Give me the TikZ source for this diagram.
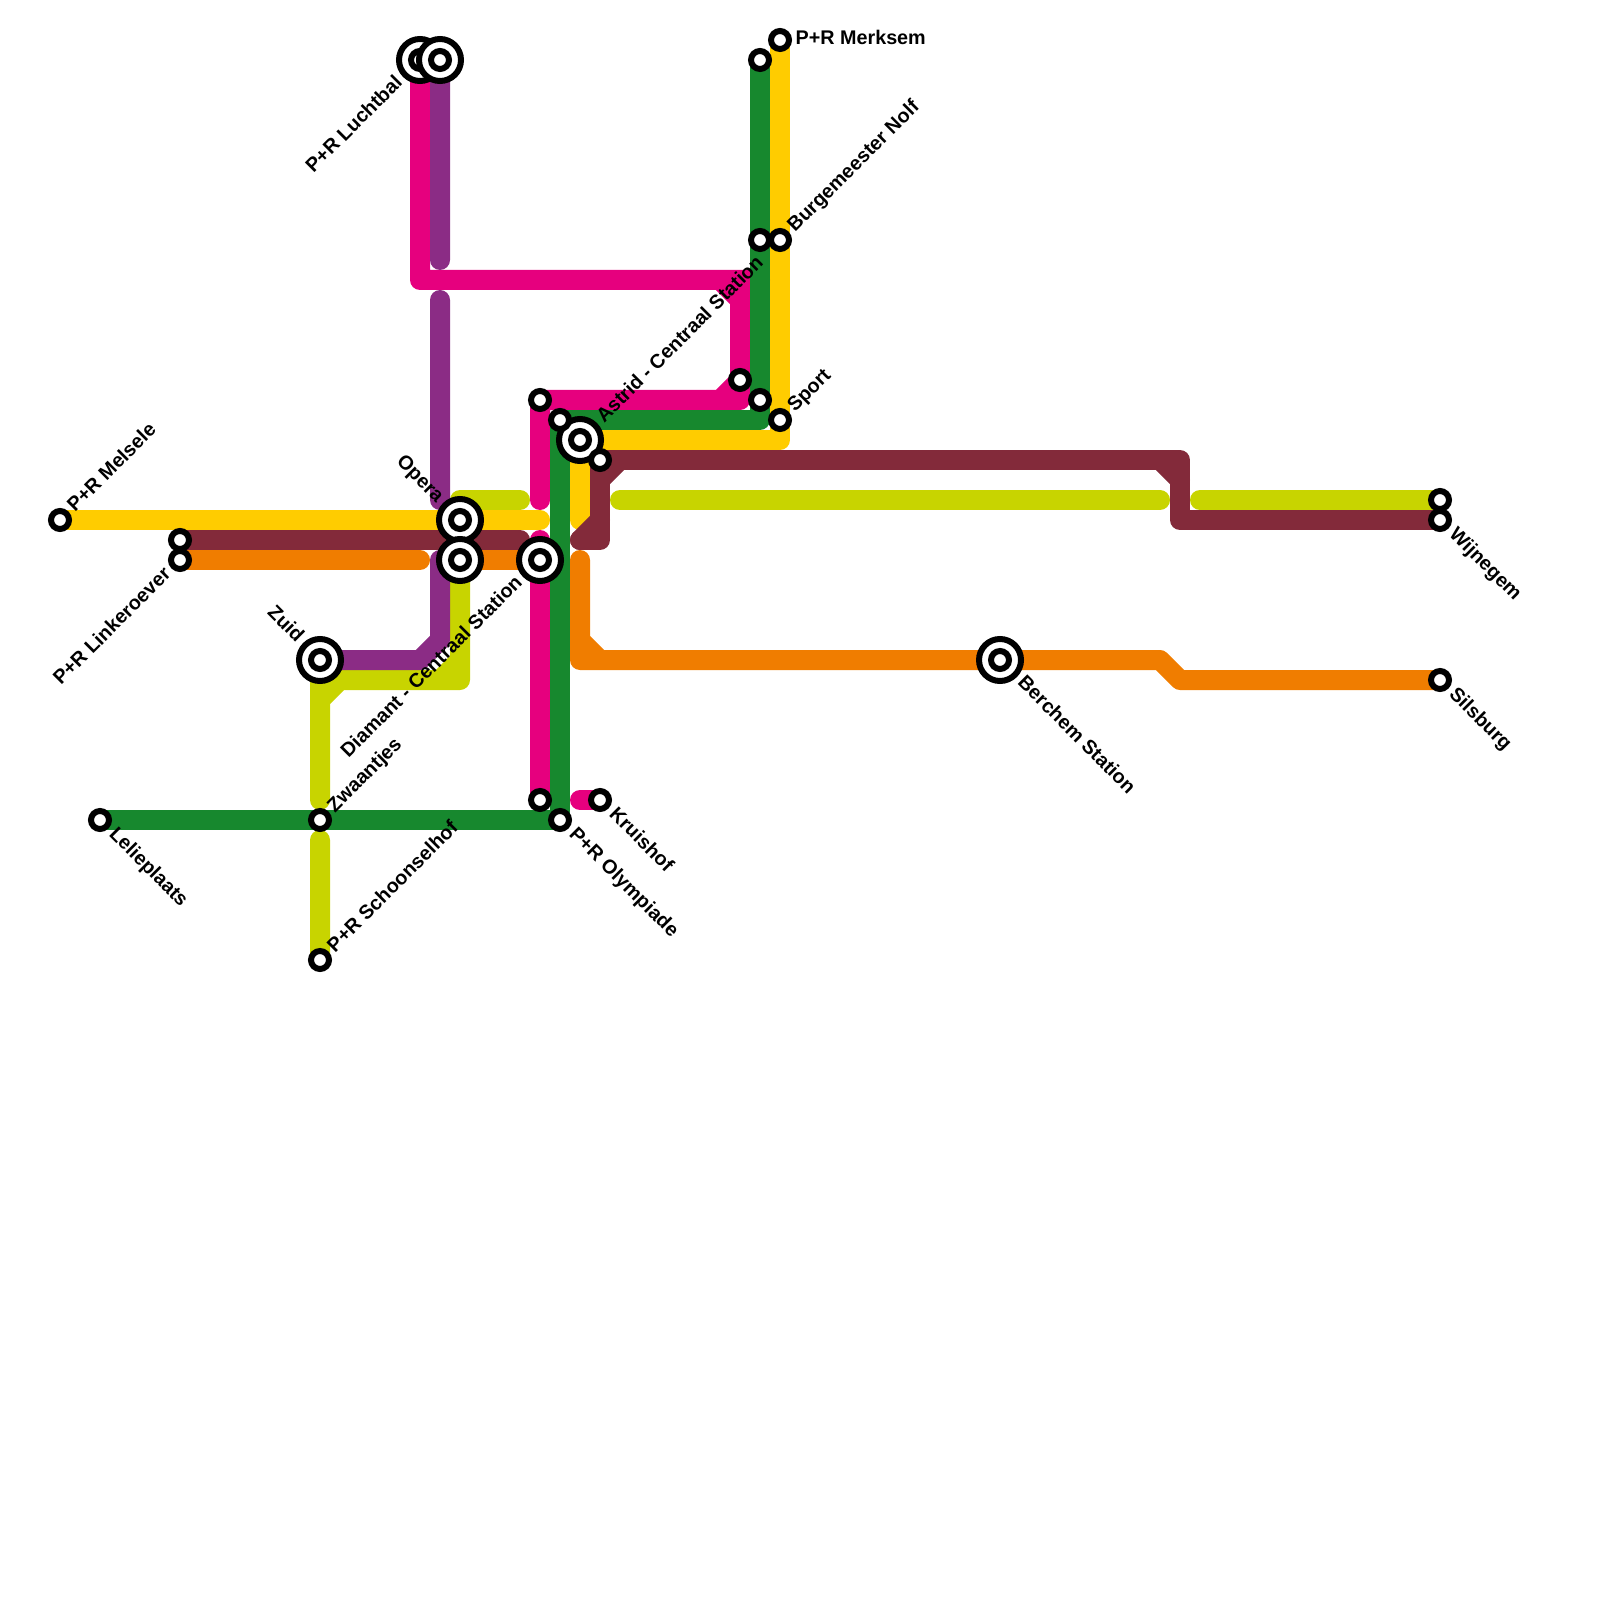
\documentclass[tikz,border=0pt]{standalone}
\usepackage{fontspec}
\setmainfont{Liberation Sans}
\definecolor{lnyellow}{HTML}{FFCC00}
\definecolor{lngreen}{HTML}{17882E}
\definecolor{lnmagenta}{HTML}{E6007E}
\definecolor{lnpurple}{HTML}{8B2C85}
\definecolor{lnolive}{HTML}{C8D400}
\definecolor{lnorange}{HTML}{F07D00}
\definecolor{lnmaroon}{HTML}{832A3A}
\tikzset{
 metro/.style={line width=2mm,line cap=round,line join=round},
 stn/.style={circle,draw=black,fill=white,line width=0.6mm,minimum size=1.8mm,inner sep=0pt},
 bigstn/.style={circle,draw=black,fill=white,line width=0.6mm,minimum size=4.2mm,inner sep=0pt},
 lbl/.style={inner sep=0pt,font=\fontsize{5.62}{7}\selectfont\bfseries},
 lblne/.style={lbl,anchor=base west,rotate=45,xshift=#1,yshift=-0.58mm},
 lblse/.style={lbl,anchor=base west,rotate=-45,xshift=#1,yshift=-0.5mm},
 lblsw/.style={lbl,anchor=base east,rotate=45,xshift=-#1,yshift=-0.5mm},
 lblnw/.style={lbl,anchor=base east,rotate=-45,xshift=-#1,yshift=-0.5mm}
}
\begin{document}
\begin{tikzpicture}[x=2mm,y=-2mm]
\useasboundingbox (0,0) rectangle (80,80);
\foreach \n/\x/\y in {melsele/3/26,yend/27/26,merksem/39/2,sport/39/21,ybend/39/22,astrid/29/22,ystub/29/26,
 gtop/38/3,burgw/38/12,burge/39/12,gmid/38/20,gbend/38/21,gcorner/28/21,olympiade/28/41,lelieplaats/5/41,zwaantjes/16/41,
 luchtbal/21/3,mbend/21/14,mhor/36/14,mcorner/37/14,mgreen/38/14,mver/37/15,mstop/37/19,mlow/37/20,mdiag/36/20,mnorth/27/20,mend/27/25,
 mstart/27/27,centraal/27/28,msouth/27/40,kstart/29/40,kruishof/30/40,
 ptop/22/3,pend/22/13,pstart/22/15,opurple/22/25,dpurple/22/28,pbend/22/32,pdiag/21/33,zuid/16/33,
 ostart/23/25,oend/26/25,omid/31/25,omidend/58/25,oright/60/25,wijnolive/72/25,diamant/23/28,odiaga/23/33,odiagb/22/34,ocorner/23/34,
 ohor/17/34,ojoin/16/34,over/16/35,oend2/16/40,ostart2/16/42,schoonselhof/16/48,
 linkeroever/9/28,rend/21/28,rtop/29/28,rver/29/32,rcorner/29/33,rhor/30/33,berchem/50/33,rbenda/58/33,rbendb/59/34,silsburg/72/34,
 linkmaroon/9/27,qend/26/27,qstub/29/27,qcorner/30/27,qdiag/30/26,qver/30/24,qhor/31/23,qstop/30/23,qbend/59/23,qbenda/58/23,qbendb/59/24,qlow/59/26,wijnegem/72/26,
 opera/23/26}
 \coordinate (\n) at (\x,\y);
\draw[metro,lnyellow] (melsele)--(yend) (merksem)--(ybend)--(astrid)--(ystub);
\draw[metro,lnmagenta] (luchtbal)--(mbend)--(mgreen) (mcorner)--(mlow)--(mnorth)--(mend) (mhor)--(mver) (mstop)--(mdiag);
\draw[metro,lnmagenta] (mstart)--(msouth) (kstart)--(kruishof);
\draw[metro,lngreen] (gtop)--(gbend)--(gcorner)--(olympiade)--(lelieplaats);
\draw[metro,lnolive] (ostart)--(oend) (omid)--(omidend) (oright)--(wijnolive);
\draw[metro,lnolive] (diamant)--(ocorner)--(ojoin)--(oend2) (odiaga)--(odiagb) (ohor)--(over) (ostart2)--(schoonselhof);
\draw[metro,lnpurple] (ptop)--(pend) (pstart)--(opurple) (dpurple)--(pbend)--(pdiag)--(zuid);
\draw[metro,lnorange] (linkeroever)--(rend) (diamant)--(centraal);
\draw[metro,lnorange] (rtop)--(rcorner)--(rbenda)--(rbendb)--(silsburg) (rver)--(rhor);
\draw[metro,lnmaroon] (linkmaroon)--(qend) (qstub)--(qcorner)--(qstop)--(qbend)--(qlow)--(wijnegem);
\draw[metro,lnmaroon] (qstub)--(qdiag) (qver)--(qhor) (qbenda)--(qbendb);
\foreach \s in {luchtbal,ptop,opera,diamant,centraal,zuid,astrid,berchem} {
 \node[bigstn] (big\s) at (\s) {};
 \node[stn] (in\s) at (\s) {};
}
\foreach \s in {melsele,merksem,gtop,burgw,burge,mstop,gmid,sport,mnorth,gcorner,qstop,linkmaroon,linkeroever,lelieplaats,zwaantjes,schoonselhof,msouth,olympiade,kruishof,wijnolive,wijnegem,silsburg}
 \node[stn] (st\s) at (\s) {};
\foreach \s/\t/\d in {melsele/P+R Melsele/1.5mm,burge/Burgemeester Nolf/1.5mm,sport/Sport/1.5mm,astrid/Astrid - Centraal Station/2.8mm,zwaantjes/Zwaantjes/1.5mm,schoonselhof/P+R Schoonselhof/1.5mm}
 \node[lblne=\d] (lbl\s) at (\s) {\t};
\foreach \s/\t/\d in {lelieplaats/Lelieplaats/1.6mm,olympiade/P+R Olympiade/1.6mm,kruishof/Kruishof/1.6mm,berchem/Berchem Station/2.8mm,silsburg/Silsburg/1.6mm,wijnegem/Wijnegem/1.6mm}
 \node[lblse=\d] (lbl\s) at (\s) {\t};
\foreach \s/\t/\d in {luchtbal/P+R Luchtbal/2.8mm,linkeroever/P+R Linkeroever/1.6mm,centraal/Diamant - Centraal Station/2.8mm}
 \node[lblsw=\d] (lbl\s) at (\s) {\t};
\foreach \s/\t in {opera/Opera,zuid/Zuid}
 \node[lblnw=2.8mm] (lbl\s) at (\s) {\t};
\node[lbl,anchor=base west,xshift=1.5mm,yshift=-0.5mm] (lblmerksem) at (merksem) {P+R Merksem};
\end{tikzpicture}
\end{document}
